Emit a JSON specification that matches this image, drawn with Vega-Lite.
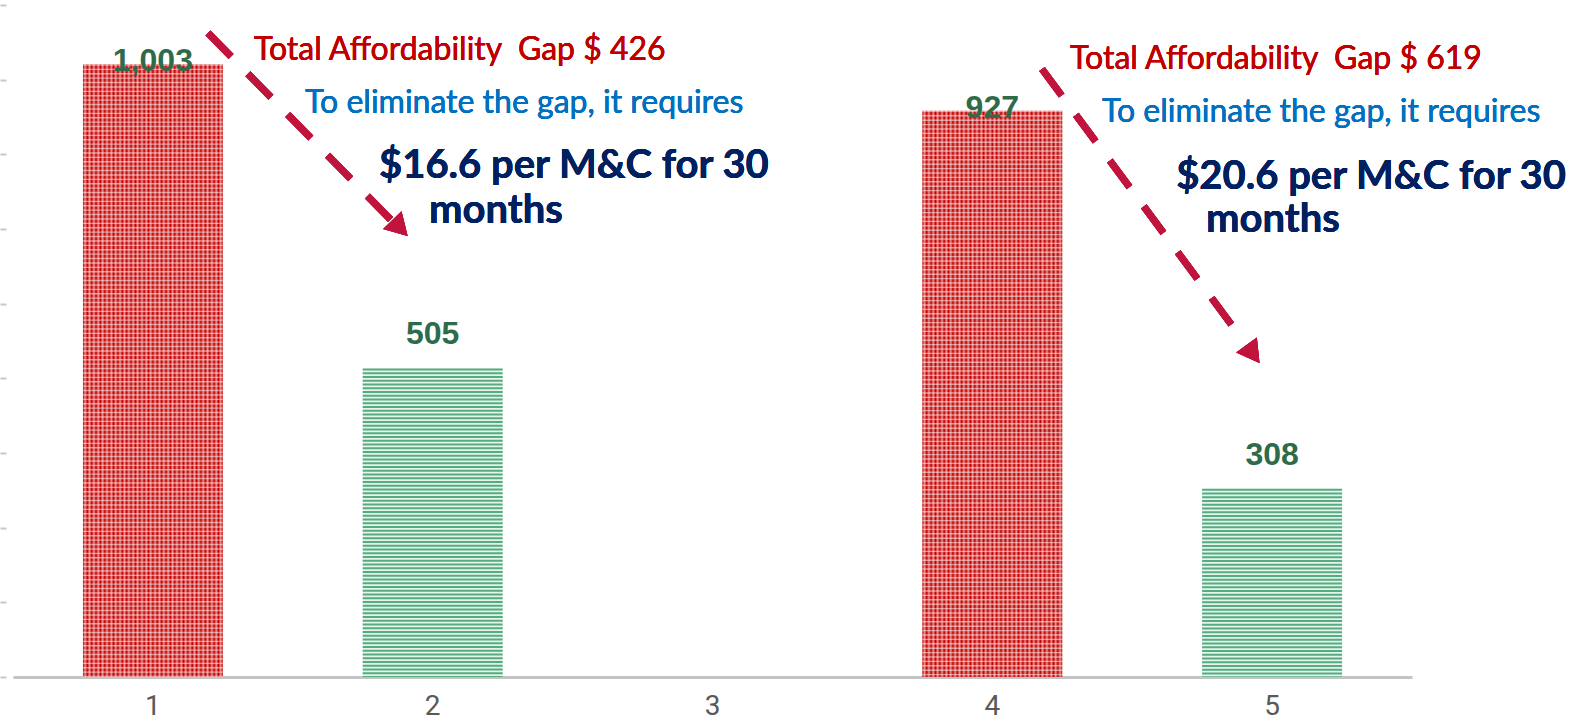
{
  "$schema": "https://vega.github.io/schema/vega-lite/v6.json",
  "width": 1399,
  "height": 672,
  "autosize": {"type": "none"},
  "padding": {"left": 13, "top": 5, "right": 171, "bottom": 44},
  "background": "white",
  "config": {"view": {"stroke": null}},
  "data": {"values": [
    {"cat": "1", "value": 1003, "group": "red"},
    {"cat": "2", "value": 505, "group": "green"},
    {"cat": "4", "value": 927, "group": "red"},
    {"cat": "5", "value": 308, "group": "green"}
  ]},
  "resolve": {"scale": {"x": "independent", "y": "independent"}, "axis": {"x": "independent", "y": "independent"}},
  "layer": [
    {
      "encoding": {
        "x": {"field": "cat", "type": "ordinal", "scale": {"domain": ["1", "2", "3", "4", "5"], "paddingInner": 0.5, "paddingOuter": 0.25},
          "axis": {"title": null, "labelAngle": 0, "ticks": false, "tickSize": 0, "labelPadding": 29, "labelBaseline": "middle", "labelFont": "Roboto", "labelFontSize": 28, "labelColor": "#595959", "domainColor": "#C4C4C4", "domainWidth": 3, "grid": false}},
        "y": {"field": "value", "type": "quantitative", "scale": {"domain": [0, 1100], "nice": false},
          "axis": {"title": null, "labels": false, "domain": false, "grid": false, "values": [0, 122.22, 244.44, 366.67, 488.89, 611.11, 733.33, 855.56, 977.78, 1100], "tickColor": "#C8C8C8", "tickSize": 6, "tickWidth": 2, "offset": 7}}
      },
      "layer": [
        {
          "transform": [{"filter": "datum.group == 'red'"}],
          "mark": {"type": "bar", "fill": {"gradient": "linear", "x1": 0, "y1": 0, "x2": 1, "y2": 0, "stops": [
            {"offset": 0, "color": "#C00000"}, {"offset": 0.0156, "color": "#EC8C8C"}, {"offset": 0.0313, "color": "#C00000"}, {"offset": 0.0469, "color": "#EC8C8C"},
            {"offset": 0.0625, "color": "#C00000"}, {"offset": 0.0781, "color": "#EC8C8C"}, {"offset": 0.0938, "color": "#C00000"}, {"offset": 0.1094, "color": "#EC8C8C"},
            {"offset": 0.125, "color": "#C00000"}, {"offset": 0.1406, "color": "#EC8C8C"}, {"offset": 0.1563, "color": "#C00000"}, {"offset": 0.1719, "color": "#EC8C8C"},
            {"offset": 0.1875, "color": "#C00000"}, {"offset": 0.2031, "color": "#EC8C8C"}, {"offset": 0.2188, "color": "#C00000"}, {"offset": 0.2344, "color": "#EC8C8C"},
            {"offset": 0.25, "color": "#C00000"}, {"offset": 0.2656, "color": "#EC8C8C"}, {"offset": 0.2813, "color": "#C00000"}, {"offset": 0.2969, "color": "#EC8C8C"},
            {"offset": 0.3125, "color": "#C00000"}, {"offset": 0.3281, "color": "#EC8C8C"}, {"offset": 0.3438, "color": "#C00000"}, {"offset": 0.3594, "color": "#EC8C8C"},
            {"offset": 0.375, "color": "#C00000"}, {"offset": 0.3906, "color": "#EC8C8C"}, {"offset": 0.4063, "color": "#C00000"}, {"offset": 0.4219, "color": "#EC8C8C"},
            {"offset": 0.4375, "color": "#C00000"}, {"offset": 0.4531, "color": "#EC8C8C"}, {"offset": 0.4688, "color": "#C00000"}, {"offset": 0.4844, "color": "#EC8C8C"},
            {"offset": 0.5, "color": "#C00000"}, {"offset": 0.5156, "color": "#EC8C8C"}, {"offset": 0.5313, "color": "#C00000"}, {"offset": 0.5469, "color": "#EC8C8C"},
            {"offset": 0.5625, "color": "#C00000"}, {"offset": 0.5781, "color": "#EC8C8C"}, {"offset": 0.5938, "color": "#C00000"}, {"offset": 0.6094, "color": "#EC8C8C"},
            {"offset": 0.625, "color": "#C00000"}, {"offset": 0.6406, "color": "#EC8C8C"}, {"offset": 0.6563, "color": "#C00000"}, {"offset": 0.6719, "color": "#EC8C8C"},
            {"offset": 0.6875, "color": "#C00000"}, {"offset": 0.7031, "color": "#EC8C8C"}, {"offset": 0.7188, "color": "#C00000"}, {"offset": 0.7344, "color": "#EC8C8C"},
            {"offset": 0.75, "color": "#C00000"}, {"offset": 0.7656, "color": "#EC8C8C"}, {"offset": 0.7813, "color": "#C00000"}, {"offset": 0.7969, "color": "#EC8C8C"},
            {"offset": 0.8125, "color": "#C00000"}, {"offset": 0.8281, "color": "#EC8C8C"}, {"offset": 0.8438, "color": "#C00000"}, {"offset": 0.8594, "color": "#EC8C8C"},
            {"offset": 0.875, "color": "#C00000"}, {"offset": 0.8906, "color": "#EC8C8C"}, {"offset": 0.9063, "color": "#C00000"}, {"offset": 0.9219, "color": "#EC8C8C"},
            {"offset": 0.9375, "color": "#C00000"}, {"offset": 0.9531, "color": "#EC8C8C"}, {"offset": 0.9688, "color": "#C00000"}, {"offset": 0.9844, "color": "#EC8C8C"},
            {"offset": 1, "color": "#C00000"}
          ]}}
        },
        {
          "transform": [{"filter": "datum.group == 'red'"}],
          "mark": {"type": "rule", "stroke": "#FFFFFF", "strokeWidth": 140, "strokeDash": [1.4, 3.0], "opacity": 0.5},
          "encoding": {"y2": {"datum": 0}}
        },
        {
          "transform": [{"filter": "datum.group == 'green'"}],
          "mark": {"type": "bar", "fill": "#E6F4EC"}
        },
        {
          "transform": [{"filter": "datum.group == 'green'"}],
          "mark": {"type": "rule", "stroke": "#55AC80", "strokeWidth": 140, "strokeDash": [2.0, 1.75]},
          "encoding": {"y2": {"datum": 0}}
        },
        {
          "transform": [{"filter": "datum.group == 'red'"}],
          "mark": {"type": "text", "font": "Liberation Sans", "fontWeight": "bold", "fontSize": 32, "fill": "#2E6B4B", "baseline": "middle", "dy": -3},
          "encoding": {"text": {"field": "value", "type": "quantitative", "format": ","}}
        },
        {
          "transform": [{"filter": "datum.group == 'green'"}],
          "mark": {"type": "text", "font": "Liberation Sans", "fontWeight": "bold", "fontSize": 32, "fill": "#2E6B4B", "baseline": "middle", "dy": -34},
          "encoding": {"text": {"field": "value", "type": "quantitative", "format": ","}}
        }
      ]
    },
    {
      "layer": [
        {
          "mark": {"type": "rule", "stroke": "#C0143C", "strokeWidth": 7, "strokeDash": [33, 24]},
          "encoding": {
            "x": {"datum": 1.1969, "type": "quantitative", "scale": {"domain": [0.5, 5.5], "nice": false, "zero": false}, "axis": null},
            "x2": {"datum": 1.8545},
            "y": {"datum": 1054.2, "type": "quantitative", "scale": {"domain": [0, 1100], "nice": false, "zero": false},
              "axis": {"orient": "right", "title": null, "labels": false, "domain": false, "grid": false, "values": [0, 183.33, 366.67, 550, 733.33, 916.67, 1100], "tickColor": "#C8C8C8", "tickSize": 8, "tickWidth": 2, "offset": 7}},
            "y2": {"datum": 746.4}
          }
        },
        {
          "mark": {"type": "point", "shape": "triangle-down", "angle": 316, "size": 650, "filled": true, "fill": "#C0143C", "opacity": 1, "strokeWidth": 0},
          "encoding": {
            "x": {"datum": 1.8831, "type": "quantitative", "scale": {"domain": [0.5, 5.5], "nice": false, "zero": false}, "axis": null},
            "y": {"datum": 735.0, "type": "quantitative", "scale": {"domain": [0, 1100], "nice": false, "zero": false}, "axis": null}
          }
        },
        {
          "mark": {"type": "rule", "stroke": "#C0143C", "strokeWidth": 7, "strokeDash": [33, 24]},
          "encoding": {
            "x": {"datum": 4.1776, "type": "quantitative", "scale": {"domain": [0.5, 5.5], "nice": false, "zero": false}, "axis": null},
            "x2": {"datum": 4.9031},
            "y": {"datum": 995.2, "type": "quantitative", "scale": {"domain": [0, 1100], "nice": false, "zero": false}, "axis": null},
            "y2": {"datum": 546.7}
          }
        },
        {
          "mark": {"type": "point", "shape": "triangle-down", "angle": 324, "size": 650, "filled": true, "fill": "#C0143C", "opacity": 1, "strokeWidth": 0},
          "encoding": {
            "x": {"datum": 4.9318, "type": "quantitative", "scale": {"domain": [0.5, 5.5], "nice": false, "zero": false}, "axis": null},
            "y": {"datum": 528.7, "type": "quantitative", "scale": {"domain": [0, 1100], "nice": false, "zero": false}, "axis": null}
          }
        },
        {
          "mark": {"type": "text", "text": "Total Affordability\u00a0 Gap $ 426", "align": "left", "baseline": "middle", "font": "Lato", "fontSize": 32, "fill": "#C00000"},
          "encoding": {
            "x": {"datum": 1.361, "type": "quantitative", "scale": {"domain": [0.5, 5.5], "nice": false, "zero": false}, "axis": null},
            "y": {"datum": 1027.1, "type": "quantitative", "scale": {"domain": [0, 1100], "nice": false, "zero": false}, "axis": null}
          }
        },
        {
          "mark": {"type": "text", "text": "To eliminate the gap, it requires", "align": "left", "baseline": "middle", "font": "Lato", "fontSize": 32, "fill": "#0070C0"},
          "encoding": {
            "x": {"datum": 1.544, "type": "quantitative", "scale": {"domain": [0.5, 5.5], "nice": false, "zero": false}, "axis": null},
            "y": {"datum": 939.6, "type": "quantitative", "scale": {"domain": [0, 1100], "nice": false, "zero": false}, "axis": null}
          }
        },
        {
          "mark": {"type": "text", "text": "$16.6 per M&C for 30", "align": "left", "baseline": "middle", "font": "Lato", "fontWeight": "bold", "fontSize": 40, "fill": "#002060"},
          "encoding": {
            "x": {"datum": 1.808, "type": "quantitative", "scale": {"domain": [0.5, 5.5], "nice": false, "zero": false}, "axis": null},
            "y": {"datum": 836.4, "type": "quantitative", "scale": {"domain": [0, 1100], "nice": false, "zero": false}, "axis": null}
          }
        },
        {
          "mark": {"type": "text", "text": "months", "align": "left", "baseline": "middle", "font": "Lato", "fontWeight": "bold", "fontSize": 40, "fill": "#002060"},
          "encoding": {
            "x": {"datum": 1.987, "type": "quantitative", "scale": {"domain": [0.5, 5.5], "nice": false, "zero": false}, "axis": null},
            "y": {"datum": 762.8, "type": "quantitative", "scale": {"domain": [0, 1100], "nice": false, "zero": false}, "axis": null}
          }
        },
        {
          "mark": {"type": "text", "text": "Total Affordability\u00a0 Gap $ 619", "align": "left", "baseline": "middle", "font": "Lato", "fontSize": 32, "fill": "#C00000"},
          "encoding": {
            "x": {"datum": 4.278, "type": "quantitative", "scale": {"domain": [0.5, 5.5], "nice": false, "zero": false}, "axis": null},
            "y": {"datum": 1010.8, "type": "quantitative", "scale": {"domain": [0, 1100], "nice": false, "zero": false}, "axis": null}
          }
        },
        {
          "mark": {"type": "text", "text": "To eliminate the gap, it requires", "align": "left", "baseline": "middle", "font": "Lato", "fontSize": 32, "fill": "#0070C0"},
          "encoding": {
            "x": {"datum": 4.392, "type": "quantitative", "scale": {"domain": [0.5, 5.5], "nice": false, "zero": false}, "axis": null},
            "y": {"datum": 924.8, "type": "quantitative", "scale": {"domain": [0, 1100], "nice": false, "zero": false}, "axis": null}
          }
        },
        {
          "mark": {"type": "text", "text": "$20.6 per M&C for 30", "align": "left", "baseline": "middle", "font": "Lato", "fontWeight": "bold", "fontSize": 40, "fill": "#002060"},
          "encoding": {
            "x": {"datum": 4.657, "type": "quantitative", "scale": {"domain": [0.5, 5.5], "nice": false, "zero": false}, "axis": null},
            "y": {"datum": 818.4, "type": "quantitative", "scale": {"domain": [0, 1100], "nice": false, "zero": false}, "axis": null}
          }
        },
        {
          "mark": {"type": "text", "text": "months", "align": "left", "baseline": "middle", "font": "Lato", "fontWeight": "bold", "fontSize": 40, "fill": "#002060"},
          "encoding": {
            "x": {"datum": 4.764, "type": "quantitative", "scale": {"domain": [0.5, 5.5], "nice": false, "zero": false}, "axis": null},
            "y": {"datum": 748.1, "type": "quantitative", "scale": {"domain": [0, 1100], "nice": false, "zero": false}, "axis": null}
          }
        }
      ]
    }
  ]
}
